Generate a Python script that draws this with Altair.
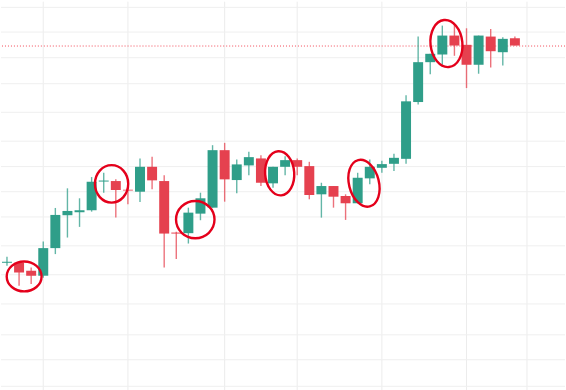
import altair as alt
import pandas as pd

# OHLC values (price units), one per candle
opens  = [128.0, 128.0, 120.0, 115.0, 142.7, 175.7, 178.7, 180.7, 209.5, 210.0,
          201.3, 199.3, 224.3, 210.0, 158.3, 157.7, 177.3, 183.3, 241.0, 211.0,
          225.7, 232.7, 207.7, 224.3, 231.0, 225.0, 196.7, 205.0, 195.0, 187.7,
          212.7, 223.3, 227.3, 232.3, 289.3, 329.3, 337.0, 356.0, 346.7, 326.7,
          355.0, 339.3, 353.3]
closes = [129.0, 118.3, 115.0, 142.7, 176.0, 180.0, 180.7, 209.3, 210.5, 201.0,
          200.5, 224.3, 210.7, 157.3, 157.3, 178.3, 192.7, 241.0, 211.7, 226.7,
          234.0, 208.3, 224.3, 231.0, 224.3, 196.0, 205.0, 194.3, 187.7, 213.3,
          224.3, 227.0, 233.3, 290.0, 329.3, 337.7, 356.0, 346.0, 326.7, 356.0,
          340.3, 352.7, 346.0]
highs  = [134.0, 128.0, 123.3, 149.3, 183.0, 202.7, 192.7, 214.0, 218.3, 211.7,
          203.3, 232.7, 234.3, 215.7, 159.0, 183.3, 198.3, 246.0, 248.3, 231.7,
          239.3, 236.0, 224.3, 235.0, 232.7, 229.3, 208.3, 205.0, 196.7, 218.3,
          231.7, 230.5, 237.3, 296.0, 355.0, 337.7, 366.0, 367.3, 363.3, 356.0,
          362.7, 354.3, 355.0]
lows   = [125.0, 105.0, 106.7, 113.0, 136.7, 153.3, 164.0, 179.3, 198.3, 173.3,
          186.7, 189.0, 201.7, 123.3, 131.7, 147.3, 170.7, 183.3, 189.3, 197.7,
          215.7, 205.0, 203.3, 215.7, 215.7, 191.7, 173.3, 183.3, 171.0, 187.7,
          206.7, 218.3, 220.0, 227.3, 286.7, 317.3, 326.7, 335.7, 303.3, 317.7,
          324.0, 326.0, 346.0]

# gridline values (candle index for time, price for levels)
time_grid = [3, 10, 18, 24, 31, 38, 43]
price_grid = [384.3, 359.5, 333.8, 307.7, 279.0, 250.0, 224.5, 199.3, 174.0,
              145.0, 116.0, 86.7, 55.7, 30.7, 4.0]

# highlighted candle groups (center in candle index / price)
hl_ids = ["a", "b", "c", "d", "e", "f"]
hl_idx = [1.42, 8.65, 15.57, 22.55, 29.52, 36.34]
hl_price = [114.3, 207.2, 171.3, 217.8, 207.8, 348.0]

UP = "#2f9e89"
DOWN = "#e5414f"

df = pd.DataFrame({
    "i": list(range(len(opens))),
    "open": opens, "close": closes, "high": highs, "low": lows,
})
df["dir"] = ["up" if c >= o else "down" for o, c in zip(opens, closes)]

# ellipse outlines (pixel radii, rotation) – styling only
ell_style = {
    "a": (17.5, 15.0, 0),
    "b": (16.7, 18.8, 0),
    "c": (19.3, 18.7, 0),
    "d": (14.6, 22.2, 356),
    "e": (15.0, 24.0, 346),
    "f": (16.0, 23.7, 354),
}
def ell_path(rx, ry):
    return (f"M {-rx} 0 A {rx} {ry} 0 1 1 {rx} 0 "
            f"A {rx} {ry} 0 1 1 {-rx} 0 Z")

hl_df = pd.DataFrame({"id": hl_ids, "i": hl_idx, "price": hl_price})
hl_df["rot"] = [ell_style[k][2] for k in hl_ids]

xs = alt.Scale(domain=[-0.4944, 46.144], nice=False, zero=False, padding=0)
ys = alt.Scale(domain=[0, 390], nice=False, zero=False, padding=0)
color = alt.Color("dir:N", scale=alt.Scale(domain=["up", "down"], range=[UP, DOWN]), legend=None)

vgrid = alt.Chart(pd.DataFrame({"t": time_grid})).mark_rule(
    color="#ececec", strokeWidth=1
).encode(x=alt.X("t:Q", scale=xs, axis=None))

hgrid = alt.Chart(pd.DataFrame({"p": price_grid})).mark_rule(
    color="#efefef", strokeWidth=1
).encode(y=alt.Y("p:Q", scale=ys, axis=None))

last = alt.Chart(pd.DataFrame({"p": [closes[-1] - 0.5]})).mark_rule(
    color="#f23645", strokeWidth=1, strokeDash=[1, 2], opacity=0.9
).encode(y=alt.Y("p:Q", scale=ys, axis=None))

wicks = alt.Chart(df).mark_rule(strokeWidth=1.4, opacity=0.75).encode(
    x=alt.X("i:Q", scale=xs, axis=None),
    y=alt.Y("low:Q", scale=ys, axis=None),
    y2="high:Q",
    color=color,
)

bodies = alt.Chart(df).mark_bar(size=10, opacity=1).encode(
    x=alt.X("i:Q", scale=xs, axis=None),
    y=alt.Y("open:Q", scale=ys, axis=None),
    y2="close:Q",
    color=color,
)

ellipses = alt.Chart(hl_df).mark_point(
    filled=False, size=4, strokeWidth=2.4, opacity=1, color="#e4001b"
).encode(
    x=alt.X("i:Q", scale=xs, axis=None),
    y=alt.Y("price:Q", scale=ys, axis=None),
    shape=alt.Shape("id:N", scale=alt.Scale(domain=hl_ids,
                    range=[ell_path(*ell_style[k][:2]) for k in hl_ids]), legend=None),
    angle=alt.Angle("rot:Q", scale=None),
)

chart = alt.layer(vgrid, hgrid, last, wicks, bodies, ellipses).properties(
    width=566, height=390, padding=0, background="white"
).configure_view(stroke=None)

chart.save("out.html", embed_options={"renderer": "svg", "actions": False})
